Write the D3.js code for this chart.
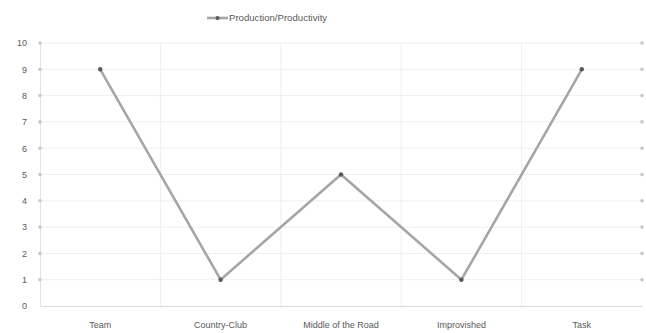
<!DOCTYPE html>
<html>
<head>
<meta charset="utf-8">
<script src="https://cdn.jsdelivr.net/npm/d3@7/dist/d3.min.js"></script>
<style>
  html, body { margin: 0; padding: 0; background: #fff; }
  svg { display: block; font-family: "Liberation Sans", Arial, sans-serif; }
</style>
</head>
<body>
<svg id="chart" width="646" height="333"></svg>
<script>
// Management styles and their production/productivity score
const categories = ["Team", "Country-Club", "Middle of the Road", "Improvished", "Task"];
const productionValues = [9, 1, 5, 1, 9];
const seriesName = "Production/Productivity";
const yTicks = [0, 1, 2, 3, 4, 5, 6, 7, 8, 9, 10];

const width = 646, height = 333;
const margin = { top: 43, right: 4, bottom: 27, left: 40 };

const svg = d3.select("#chart");

const x = d3.scaleBand()
  .domain(categories)
  .range([margin.left, width - margin.right])
  .paddingInner(0).paddingOuter(0);

const y = d3.scaleLinear()
  .domain([0, 10])
  .range([height - margin.bottom, margin.top]);

const textColor = "#595959";

// Horizontal gridlines
svg.append("g")
  .selectAll("line")
  .data(yTicks.filter(d => d > 0))
  .join("line")
  .attr("x1", margin.left).attr("x2", width - margin.right)
  .attr("y1", d => y(d)).attr("y2", d => y(d))
  .attr("stroke", "#efefef").attr("stroke-width", 1);

// Vertical gridlines at category boundaries
svg.append("g")
  .selectAll("line")
  .data(categories.slice(1))
  .join("line")
  .attr("x1", d => x(d)).attr("x2", d => x(d))
  .attr("y1", y(10)).attr("y2", y(0))
  .attr("stroke", "#efefef").attr("stroke-width", 1);

// Left value axis
const yAxis = svg.append("g")
  .attr("transform", `translate(${margin.left},0)`)
  .call(d3.axisLeft(y).tickValues(yTicks).tickSize(0).tickPadding(13).tickFormat(d3.format("d")));
yAxis.select(".domain").attr("stroke", "#e4e4e4");
yAxis.selectAll("text").attr("fill", textColor).attr("font-size", 9);

// Tick dots on both value axes
[margin.left, width - margin.right].forEach(xp => {
  svg.append("g")
    .selectAll("circle")
    .data(yTicks.filter(d => d > 0))
    .join("circle")
    .attr("cx", xp).attr("cy", d => y(d))
    .attr("r", 1.8)
    .attr("fill", "#c8c8c8");
});

// Category axis
const xAxis = svg.append("g")
  .attr("transform", `translate(0,${y(0)})`)
  .call(d3.axisBottom(x).tickSize(0).tickPadding(16));
xAxis.select(".domain").attr("stroke", "#dcdcdc");
xAxis.selectAll("text").attr("fill", textColor).attr("font-size", 9);

// Series line
const line = d3.line()
  .x((d, i) => x(categories[i]) + x.bandwidth() / 2)
  .y(d => y(d));

svg.append("path")
  .datum(productionValues)
  .attr("d", line)
  .attr("fill", "none")
  .attr("stroke", "#a6a6a6")
  .attr("stroke-width", 2.6)
  .attr("stroke-linejoin", "round");

svg.append("g")
  .selectAll("circle")
  .data(productionValues)
  .join("circle")
  .attr("cx", (d, i) => x(categories[i]) + x.bandwidth() / 2)
  .attr("cy", d => y(d))
  .attr("r", 2.2)
  .attr("fill", "#5a5a5a");

// Legend
const legend = svg.append("g").attr("transform", "translate(207,18)");
legend.append("line")
  .attr("x1", 0).attr("x2", 21)
  .attr("stroke", "#a6a6a6").attr("stroke-width", 2.6);
legend.append("circle").attr("cx", 10.5).attr("r", 2).attr("fill", "#5a5a5a");
legend.append("text")
  .attr("x", 22).attr("dy", "0.35em")
  .attr("fill", textColor).attr("font-size", 9.6)
  .text(seriesName);
</script>
</body>
</html>
